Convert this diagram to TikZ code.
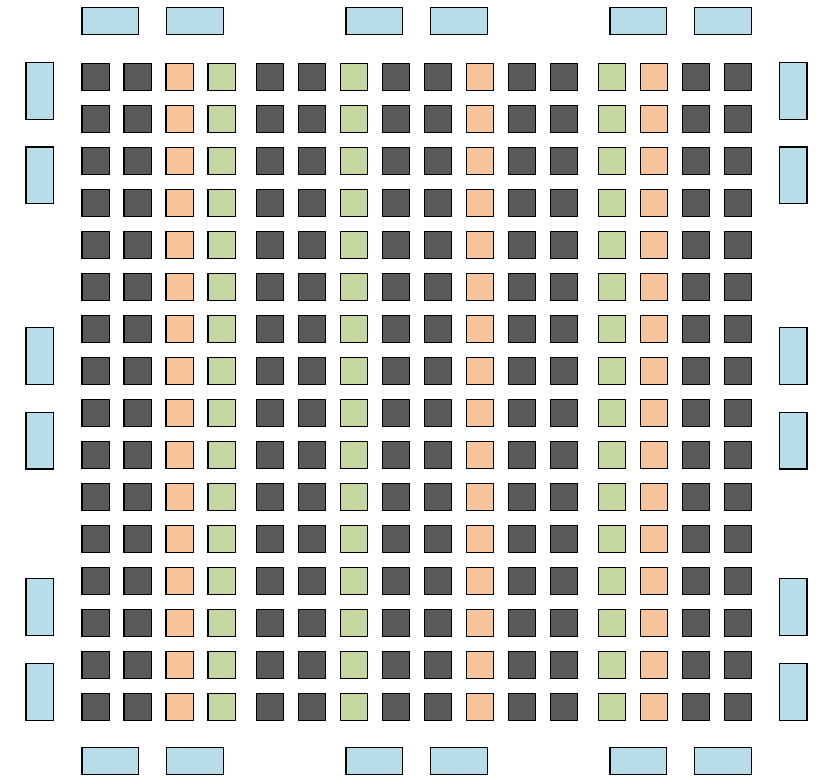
\documentclass[tikz,border=0pt]{standalone}
\definecolor{dk}{HTML}{595959}
\definecolor{orc}{HTML}{F8C49B}
\definecolor{grc}{HTML}{C5D6A0}
\definecolor{lb}{HTML}{B8DDE8}
\begin{document}
\begin{tikzpicture}[x=1pt,y=-1pt,
  cell/.style={draw=black, line width=1.2pt, minimum width=27.4pt, minimum height=27.4pt, inner sep=0pt, outer sep=0pt},
  hbar/.style={draw=black, fill=lb, line width=1.2pt, minimum width=56.8pt, minimum height=27.4pt, inner sep=0pt, outer sep=0pt},
  vbar/.style={draw=black, fill=lb, line width=1.2pt, minimum width=27.4pt, minimum height=56.8pt, inner sep=0pt, outer sep=0pt}]
\useasboundingbox (0,0) rectangle (820,779);
\foreach \c/\x/\f in {0/81.3/dk,1/123.3/dk,2/165.3/orc,3/207.3/grc,
                      4/255.7/dk,5/297.7/dk,6/339.7/grc,7/381.7/dk,8/423.7/dk,9/465.7/orc,10/507.7/dk,11/549.7/dk,
                      12/597.7/grc,13/639.7/orc,14/681.7/dk,15/723.7/dk}
  \foreach \r in {0,...,15}
    \node[cell, fill=\f] (s\c-\r) at ({\x+14.3},{77+42*\r}) {};
\foreach \i/\x in {1/110.3,2/195,3/374.3,4/459,5/638.3,6/723}{
  \node[hbar] (t\i) at (\x,20.8) {};
  \node[hbar] (b\i) at (\x,761) {};
}
\foreach \i/\y in {1/90.9,2/175.3,3/355.8,4/440.5,5/607.2,6/691.8}{
  \node[vbar] (l\i) at (39.7,\y) {};
  \node[vbar] (r\i) at (793.3,\y) {};
}
\end{tikzpicture}
\end{document}
